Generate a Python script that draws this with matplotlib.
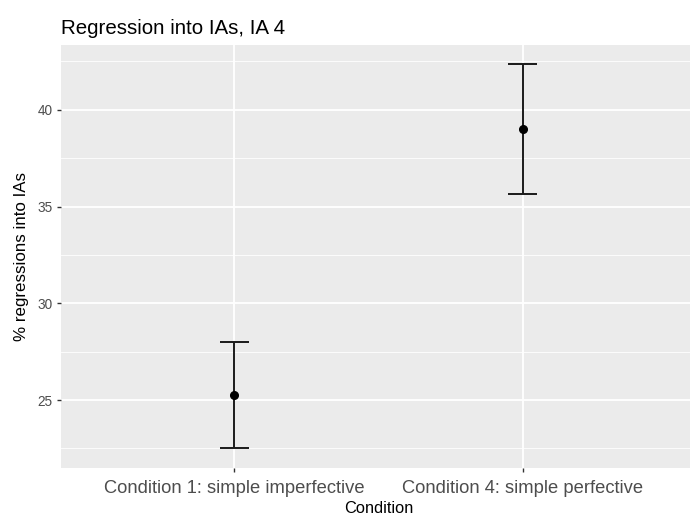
import matplotlib
matplotlib.use('Agg')
import matplotlib.pyplot as plt
from matplotlib.ticker import MultipleLocator

# data
conditions = ['Condition 1: simple imperfective', 'Condition 4: simple perfective']
means = [25.26, 39.02]
lower = [22.50, 35.67]
upper = [28.01, 42.35]

plt.rcParams['font.family'] = ['Liberation Sans', 'DejaVu Sans']

fig = plt.figure(figsize=(6.9, 5.15), dpi=100)
# panel runs off the right edge like the cropped reference
ax = fig.add_axes([61 / 690, 1 - 467.7 / 515, 635 / 690, 422.7 / 515])
ax.set_facecolor('#EBEBEB')
for s in ax.spines.values():
    s.set_visible(False)

x = list(range(len(conditions)))

# error bars (width 0.1 like geom_errorbar)
ax.vlines(x, lower, upper, color='#1a1a1a', lw=1.4, zorder=3)
ax.hlines(lower, [i - 0.05 for i in x], [i + 0.05 for i in x], color='#1a1a1a', lw=1.4, zorder=3)
ax.hlines(upper, [i - 0.05 for i in x], [i + 0.05 for i in x], color='#1a1a1a', lw=1.4, zorder=3)
ax.plot(x, means, 'o', color='black', ms=5.5, zorder=4)

ax.set_xlim(-0.6, len(conditions) - 0.4)
lo, hi = min(lower), max(upper)
pad = (hi - lo) * 0.05
ax.set_ylim(lo - pad, hi + pad)

ax.set_xticks(x)
ax.set_xticklabels(conditions, fontsize=13.2, color='#4D4D4D')
ax.yaxis.set_major_locator(MultipleLocator(5))
ax.yaxis.set_minor_locator(MultipleLocator(2.5))
ax.tick_params(axis='both', which='major', length=3, width=1, color='#333333', pad=3)
ax.tick_params(axis='x', pad=6)
ax.tick_params(axis='y', labelsize=9.8, labelcolor='#4D4D4D')
ax.tick_params(axis='y', which='minor', length=0)

ax.grid(True, which='major', color='white', lw=1.3, zorder=0)
ax.grid(True, which='minor', axis='y', color='white', lw=0.6, zorder=0)
ax.set_axisbelow(True)

ax.set_xlabel('Condition', fontsize=11.8, labelpad=3)
ax.set_ylabel('% regressions into IAs', fontsize=12.2, labelpad=6)
fig.text(61 / 690, 1 - 28 / 515, 'Regression into IAs, IA 4', fontsize=14.8,
         ha='left', va='center')

fig.savefig('out.png', dpi=100)
